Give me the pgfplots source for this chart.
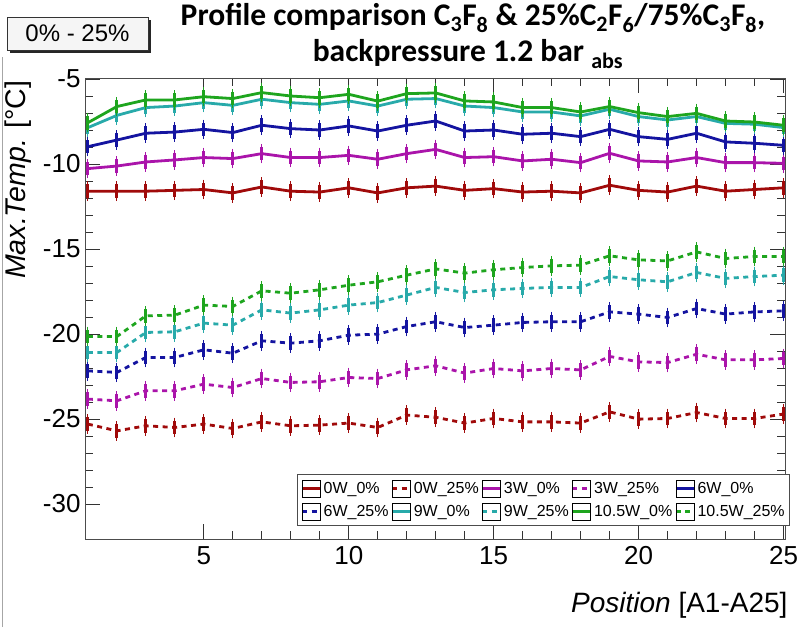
\documentclass[border=0pt]{standalone}
\usepackage{pgfplots}
\pgfplotsset{compat=1.18}
\usepackage{pgfplotstable}
\usepackage{fontspec}
\setmainfont{Liberation Sans}
\newfontfamily\titlefont{Carlito}
\definecolor{cR}{RGB}{160,10,10}
\definecolor{cM}{RGB}{170,20,170}
\definecolor{cB}{RGB}{20,20,160}
\definecolor{cC}{RGB}{40,170,170}
\definecolor{cG}{RGB}{30,165,30}
\pgfplotstableread{
x r0 r25 m0 m25 b0 b25 c0 c25 g0 g25
1 -11.60 -25.30 -10.27 -23.83 -8.98 -22.17 -7.86 -21.09 -7.57 -20.15
2 -11.60 -25.70 -10.12 -23.93 -8.59 -22.26 -7.14 -21.09 -6.62 -20.15
3 -11.60 -25.40 -9.88 -23.34 -8.19 -21.38 -6.68 -19.91 -6.23 -18.93
4 -11.55 -25.50 -9.76 -23.34 -8.12 -21.38 -6.59 -19.87 -6.23 -18.89
5 -11.50 -25.30 -9.62 -22.95 -7.96 -20.93 -6.39 -19.36 -6.04 -18.30
6 -11.70 -25.56 -9.68 -23.15 -8.15 -21.13 -6.55 -19.48 -6.15 -18.38
7 -11.35 -25.17 -9.39 -22.62 -7.72 -20.40 -6.19 -18.58 -5.80 -17.46
8 -11.60 -25.40 -9.62 -22.85 -7.92 -20.54 -6.39 -18.77 -6.00 -17.60
9 -11.65 -25.36 -9.62 -22.81 -8.00 -20.40 -6.49 -18.58 -6.10 -17.40
10 -11.40 -25.24 -9.49 -22.56 -7.76 -20.07 -6.29 -18.30 -5.90 -17.13
11 -11.70 -25.50 -9.72 -22.62 -8.06 -20.01 -6.59 -18.15 -6.30 -16.93
12 -11.40 -24.77 -9.39 -22.11 -7.72 -19.56 -6.19 -17.71 -5.86 -16.54
13 -11.30 -24.90 -9.14 -21.87 -7.47 -19.28 -6.15 -17.26 -5.82 -16.17
14 -11.55 -25.24 -9.62 -22.30 -8.06 -19.62 -6.59 -17.56 -6.29 -16.42
15 -11.45 -24.97 -9.57 -22.03 -8.00 -19.48 -6.68 -17.40 -6.35 -16.22
16 -11.65 -25.17 -9.82 -22.17 -8.25 -19.32 -6.94 -17.32 -6.68 -16.09
17 -11.60 -25.17 -9.72 -22.03 -8.19 -19.28 -6.94 -17.26 -6.68 -15.99
18 -11.70 -25.24 -9.92 -22.11 -8.39 -19.28 -7.17 -17.26 -6.94 -15.95
19 -11.25 -24.58 -9.37 -21.32 -7.96 -18.70 -6.78 -16.62 -6.62 -15.40
20 -11.55 -25.01 -9.82 -21.64 -8.39 -18.83 -7.21 -16.81 -6.98 -15.64
21 -11.65 -24.97 -9.88 -21.68 -8.55 -19.03 -7.41 -16.93 -7.21 -15.70
22 -11.30 -24.62 -9.62 -21.19 -8.19 -18.50 -7.21 -16.38 -7.02 -15.17
23 -11.60 -24.97 -9.92 -21.52 -8.70 -18.83 -7.61 -16.73 -7.47 -15.56
24 -11.50 -24.97 -9.92 -21.52 -8.78 -18.70 -7.66 -16.62 -7.53 -15.44
25 -11.40 -24.71 -9.96 -21.44 -8.90 -18.64 -7.86 -16.54 -7.72 -15.44
}\data
\pgfplotsset{
  sol/.style={line width=2.8pt, solid, mark=none},
  das/.style={line width=2.8pt, dash pattern=on 5pt off 4.5pt, mark=none},
  eb/.style={error bars/y dir=both, error bars/y fixed=0.4,
    error bars/error mark=-,
    error bars/error bar style={line width=3pt, solid},
    error bars/error mark options={mark size=3pt, line width=1.2pt}},
}
\begin{document}
\begin{tikzpicture}[x=1pt,y=1pt]
\path[use as bounding box] (0,0) rectangle (798,627);
\draw[gray!70, line width=0.8pt] (2.5,0) -- (2.5,570);
% label box
\fill[black!85] (10,574) rectangle (151,607);
\draw[black!80, fill=black!4, line width=0.8pt] (7,577) rectangle (148,610);
\node at (77.5,593.5) {\fontsize{24}{26}\selectfont 0\% - 25\%};
% title
\node[anchor=base] at (473,601) {\titlefont\bfseries\fontsize{31.5}{36}\selectfont Profile comparison C\textsubscript{3}F\textsubscript{8} \& 25\%C\textsubscript{2}F\textsubscript{6}/75\%C\textsubscript{3}F\textsubscript{8},};
\node[anchor=base] at (468,565) {\titlefont\bfseries\fontsize{31.5}{36}\selectfont backpressure 1.2 bar \textsubscript{abs}};
\begin{axis}[
  at={(85pt,88pt)}, anchor=south west,
  scale only axis, width=700pt, height=461pt,
  xmin=0.9, xmax=25.05, ymin=-32.06, ymax=-4.94,
  xtick={5,10,15,20,25}, minor x tick num=4,
  ytick={-30,-25,-20,-15,-10,-5}, minor y tick num=4,
  tick align=inside, xtick pos=both, ytick pos=both,
  major tick length=15pt, minor tick length=8pt,
  tick style={black!80, line width=0.8pt},
  axis line style={black!70, line width=0.9pt},
  /pgf/number format/assume math mode=true,
  ticklabel style={font=\fontsize{26}{29}\selectfont},
  yticklabel style={xshift=-1pt},
  xticklabel style={yshift=-4pt},
  legend columns=5,
  legend cell align=left,
  legend style={at={(0.303,0.141)}, anchor=north west, draw=black!70, line width=0.8pt,
    font=\fontsize{16}{18}\selectfont, inner xsep=3pt, inner ysep=3pt,
    nodes={inner ysep=5pt},
    /tikz/every even column/.append style={column sep=0pt}},
  legend image code/.code={
    \draw[#1, line width=3.2pt] (0pt,0pt) -- (18pt,0pt);
    \draw[black, line width=0.6pt, solid] (0pt,-8.5pt) rectangle (18pt,8.5pt);
  },
]
\addplot[cR, sol, eb] table[x=x,y=r0] {\data}; \addlegendentry{0W\_0\%}
\addplot[cR, das, eb] table[x=x,y=r25] {\data}; \addlegendentry{0W\_25\%}
\addplot[cM, sol, eb] table[x=x,y=m0] {\data}; \addlegendentry{3W\_0\%}
\addplot[cM, das, eb] table[x=x,y=m25] {\data}; \addlegendentry{3W\_25\%}
\addplot[cB, sol, eb] table[x=x,y=b0] {\data}; \addlegendentry{6W\_0\%}
\addplot[cB, das, eb] table[x=x,y=b25] {\data}; \addlegendentry{6W\_25\%}
\addplot[cC, sol, eb] table[x=x,y=c0] {\data}; \addlegendentry{9W\_0\%}
\addplot[cC, das, eb] table[x=x,y=c25] {\data}; \addlegendentry{9W\_25\%}
\addplot[cG, sol, eb] table[x=x,y=g0] {\data}; \addlegendentry{10.5W\_0\%}
\addplot[cG, das, eb] table[x=x,y=g25] {\data}; \addlegendentry{10.5W\_25\%}
\end{axis}
\node[rotate=90, anchor=east] at (18,550) {\fontsize{28.5}{31}\selectfont\textit{Max.Temp.} [°C]};
\node[anchor=base east] at (791,15) {\fontsize{28}{31}\selectfont\textit{Position} [A1-A25]};
\end{tikzpicture}
\end{document}
